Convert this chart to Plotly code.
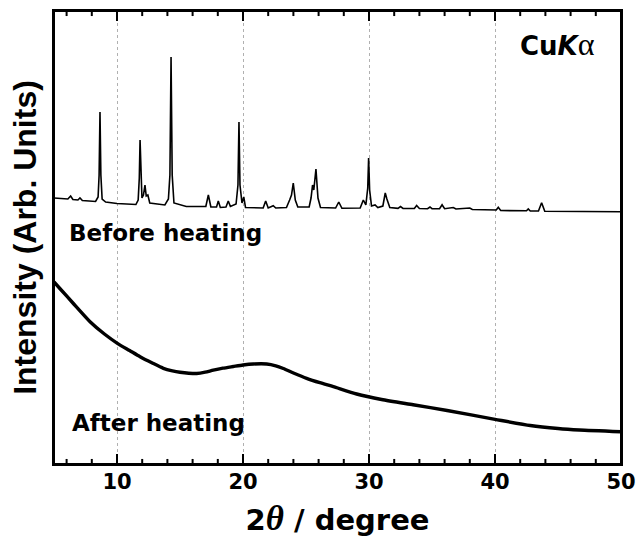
import plotly.graph_objects as go

# ---- data (2theta in degree, intensity in arbitrary units) ----
before_x = [5.0, 6.1, 6.32, 6.5, 6.9, 7.06, 7.25, 8.3, 8.5, 8.58, 8.65, 8.72, 8.82, 9.1, 10.0,
            11.5, 11.68, 11.77, 11.83, 11.89, 11.98, 12.1, 12.22, 12.32, 12.45, 12.6, 13.8,
            14.08, 14.2, 14.29, 14.38, 14.52, 15.5, 17.05, 17.25, 17.45, 17.9, 18.04, 18.2,
            18.65, 18.83, 19.0, 19.45, 19.6, 19.68, 19.76, 19.92, 20.06, 20.2, 21.6, 21.8,
            22.0, 22.4, 22.6, 23.45, 23.7, 23.85, 23.99, 24.15, 24.35, 25.25, 25.4, 25.52,
            25.62, 25.79, 25.95, 26.15, 27.35, 27.6, 27.85, 29.3, 29.55, 29.75, 29.9, 29.97,
            30.05, 30.2, 30.48, 30.7, 31.1, 31.29, 31.42, 31.65, 32.3, 32.5, 32.7, 33.6,
            33.78, 34.0, 34.65, 34.84, 35.0, 35.6, 35.8, 36.0, 36.69, 36.9, 38.0, 38.2,
            40.1, 40.26, 40.45, 42.5, 42.64, 42.8, 43.45, 43.7, 43.95, 50.0]
before_y = [266, 265, 268, 264.5, 264, 266, 263.5, 262.5, 267, 289, 352, 289, 265, 262, 260.5,
            259.5, 264, 286, 324, 286, 266, 269, 279, 268, 269, 261, 259,
            265, 289, 407, 289, 261, 257.5, 257.5, 269, 257, 257, 263, 256.5,
            257, 263, 257.5, 260, 279, 342, 279, 261, 267, 256.5, 256, 263,
            256, 258.3, 256, 256.5, 264, 269, 281, 264, 257, 257, 266, 279,
            274, 295, 266, 256.5, 256, 262, 255.7, 256, 264, 259, 276, 306,
            274, 258, 259, 256.5, 258, 271, 265, 256.5, 255.7, 257.5, 255.5, 255.5,
            258.5, 255.5, 255.3, 257, 255.3, 255.3, 259.3, 255.3, 256.5, 255, 256, 254.5,
            254, 256.7, 253.5, 253.2, 255, 253, 253, 261.3, 252.7, 252.3]

after_x = [5.0, 5.5, 6.5, 7.86, 9.0, 10.03, 11.0, 11.83, 12.8, 13.68, 14.4, 15.0, 15.7, 16.32,
           17.0, 17.64, 18.4, 19.23, 20.0, 20.82, 21.88, 22.6, 23.2, 24.1, 25.05, 26.1, 27.17,
           29.02, 31.0, 33.5, 36.2, 40.0, 42.8, 45.0, 46.7, 50.0]
after_y = [182, 175, 161, 142.3, 130, 120.7, 113.5, 107.3, 101, 95.7, 93.2, 91.8, 90.8, 90.5,
           91.8, 93.8, 95.8, 97.5, 99, 100, 100, 98.2, 95.5, 90.5, 85.7, 81.3, 77.3,
           70, 64.5, 59.2, 53.5, 44.7, 38.5, 35.5, 34, 32.3]

x_ticks = [10, 20, 30, 40, 50]
minor_ticks = [6, 8, 12, 14, 16, 18, 22, 24, 26, 28, 32, 34, 36, 38, 42, 44, 46, 48]
x_range = [5, 50]
y_range = [0, 453]

fig = go.Figure()
fig.add_trace(go.Scatter(x=before_x, y=before_y, mode="lines",
                         line=dict(color="black", width=1.6), showlegend=False))
fig.add_trace(go.Scatter(x=after_x, y=after_y, mode="lines",
                         line=dict(color="black", width=3.4, shape="spline", smoothing=0.6),
                         showlegend=False))

# inward tick marks on bottom and top edges (half of each marker is clipped by the axes)
for vals, size in ((x_ticks, 14.3), (minor_ticks, 7.2)):
    for edge in y_range:
        fig.add_trace(go.Scatter(x=vals, y=[edge] * len(vals), mode="markers",
                                 cliponaxis=True, hoverinfo="skip", showlegend=False,
                                 marker=dict(symbol="line-ns", size=size, color="black",
                                             line=dict(color="black", width=2))))

bold = "DejaVu Sans"
fig.add_annotation(x=6.0, y=231.3, xref="x", yref="y", text="<b>Before heating</b>",
                   showarrow=False, xanchor="left", yanchor="middle",
                   font=dict(family=bold, size=23, color="black"))
fig.add_annotation(x=6.25, y=41.5, xref="x", yref="y", text="<b>After heating</b>",
                   showarrow=False, xanchor="left", yanchor="middle",
                   font=dict(family=bold, size=23, color="black"))
fig.add_annotation(x=48.1, y=420, xref="x", yref="y",
                   text="<b>Cu<i>K</i></b><span style='font-family:Liberation Serif;font-size:32px'>α</span>",
                   showarrow=False, xanchor="right", yanchor="middle",
                   font=dict(family=bold, size=26, color="black"))

# plot frame
fig.add_shape(type="rect", xref="paper", yref="paper", x0=0, x1=1, y0=0, y1=1,
              line=dict(color="black", width=2), layer="above")

fig.update_layout(
    xaxis=dict(range=x_range, tickmode="array", tickvals=x_ticks,
               ticktext=[str(v) for v in x_ticks], ticks="", automargin=False,
               showline=True, linewidth=2, linecolor="black", mirror=True,
               showgrid=True, gridcolor="#b0b0b0", gridwidth=1,
               griddash="dot", zeroline=False, ticklabelstandoff=-2,
               tickfont=dict(family=bold, size=21, color="black", weight="bold"),
               title=dict(text="<b>2</b><span style='font-family:Liberation Serif;font-size:35px'><i>θ</i></span><b> / degree</b>",
                          font=dict(family=bold, size=29, color="black", weight="bold"),
                          standoff=16)),
    yaxis=dict(range=y_range, showticklabels=False, ticks="", showgrid=False,
               zeroline=False, showline=True, linewidth=2, linecolor="black", mirror=True,
               title=dict(text="<b>Intensity (Arb. Units)</b>",
                          font=dict(family="Liberation Sans", size=32, color="black"),
                          standoff=6)),
    width=641, height=554, margin=dict(l=54, r=20, t=11, b=90),
    plot_bgcolor="white", paper_bgcolor="white")

fig.write_html("out.html")
